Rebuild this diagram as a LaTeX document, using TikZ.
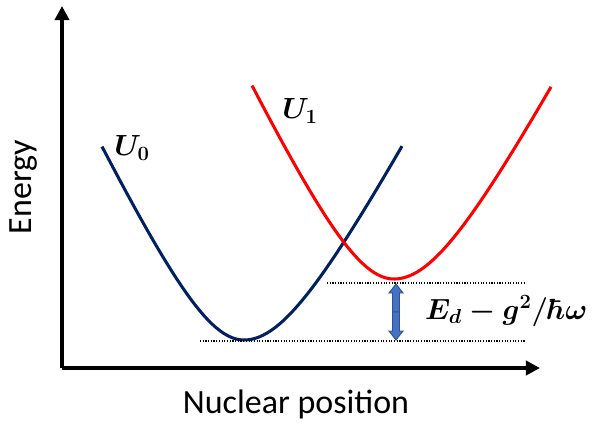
\documentclass[tikz,border=0pt]{standalone}
\usepackage{amsmath,amssymb}
\usepackage{fontspec}
\setsansfont{Carlito}
\usepackage{tikz}
\usetikzlibrary{arrows.meta, positioning, calc}
\definecolor{groundblue}{HTML}{002060}
\definecolor{excitedred}{HTML}{FF0000}
\definecolor{gapfill}{HTML}{4472C4}
\definecolor{gapline}{HTML}{2F528F}

\begin{document}
\begin{tikzpicture}[
    x=0.03cm, y=-0.03cm,
    declare function={well(\t,\c)=132*(sqrt(1+(\t/\c)^2)-1);},
    axis/.style={-{Triangle[length=12pt, width=12pt]}, line width=3pt},
    curve/.style={line width=2.6pt, #1},
    level/.style={line width=0.9pt, dash pattern=on 1pt off 1.3pt},
    gaparrow/.style={draw=gapline, fill=gapfill, line width=0.8pt, line join=miter},
    mathlabel/.style={font=\fontsize{25}{30}\selectfont\boldmath},
    axlabel/.style={font=\fontsize{29}{34}\selectfont\sffamily},
  ]
  \useasboundingbox (0,0) rectangle (594,424);

  \coordinate (origin) at (62,368);
  \coordinate (ytop) at (62,6);
  \coordinate (xend) at (540,368);
  \draw[axis] (origin) -- (ytop);
  \draw[axis] (origin) -- (xend);

  \node[axlabel, rotate=90] (energy) at (24,187) {Energy};
  \node[axlabel] (position) at (296,404) {Nuclear position};

  \draw[curve=groundblue] plot[domain=102:244, samples=50] (\x,{340-well(\x-244,63)})
    -- plot[domain=244:402, samples=50] (\x,{340-well(\x-244,70)});
  \draw[curve=excitedred] plot[domain=252:394, samples=50] (\x,{279-well(\x-394,63)})
    -- plot[domain=394:551, samples=50] (\x,{279-well(\x-394,70)});

  \node[mathlabel] (U0) at (132,148) {$U_0$};
  \node[mathlabel] (U1) at (300,111) {$U_1$};

  \coordinate (upperL) at (327,283);
  \coordinate (upperR) at (526,283);
  \coordinate (lowerL) at (200,341);
  \coordinate (lowerR) at (526,341);
  \draw[level] (upperL) -- (upperR);
  \draw[level] (lowerL) -- (lowerR);

  \coordinate (gaptop) at (396,284);
  \coordinate (gapbot) at (396,340);
  \coordinate (gapmid) at ($(gaptop)!0.5!(gapbot)$);
  \foreach \tip/\s in {gaptop/1, gapbot/-1}
    \draw[gaparrow] ($(gapmid)+(-3.5,0)$) -- ($(\tip)+(-3.5,9*\s)$) -- ($(\tip)+(-7,9*\s)$)
      -- (\tip) -- ($(\tip)+(7,9*\s)$) -- ($(\tip)+(3.5,9*\s)$) -- ($(gapmid)+(3.5,0)$) -- cycle;

  \node[mathlabel, anchor=west] (gap) at (421,311) {$E_d-g^2/\hbar\omega$};
\end{tikzpicture}
\end{document}
